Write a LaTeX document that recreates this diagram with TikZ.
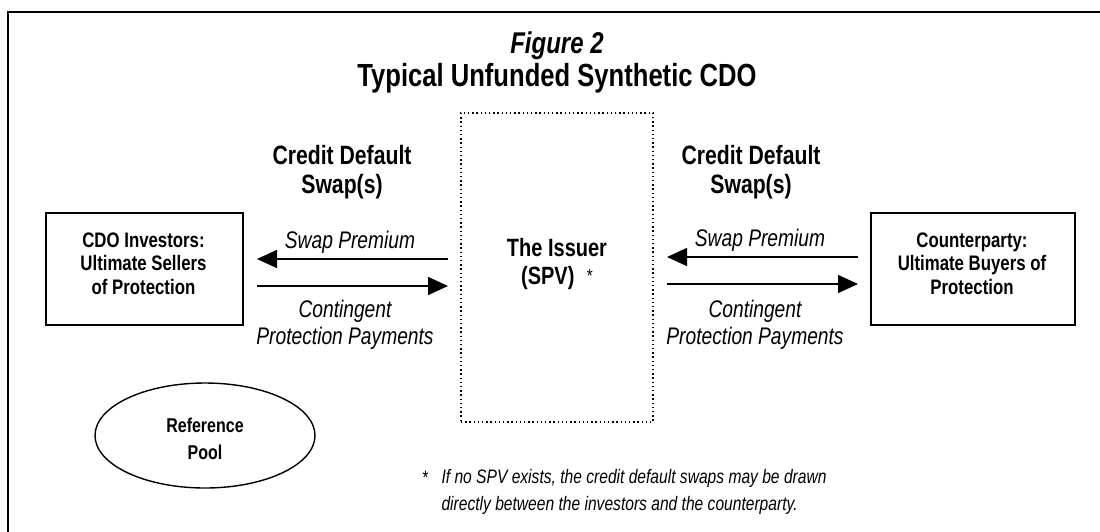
\documentclass[tikz,border=0pt]{standalone}
\usepackage{fontspec}
\setmainfont[FakeStretch=0.8]{Liberation Sans}
\usetikzlibrary{arrows.meta,shapes.geometric}

\newcommand{\fsz}[2]{\fontsize{#1}{#2}\selectfont}

\tikzset{
  frameline/.style={line width=2.6pt},
  partybox/.style={draw, line width=1.6pt, rectangle, inner sep=0pt},
  partytext/.style={align=center, font=\bfseries\fsz{21}{23.5}},
  issuerbox/.style={draw, line width=1.4pt, dash pattern=on 1.4pt off 2.8pt, rectangle, inner sep=0pt},
  headtext/.style={align=center, font=\bfseries\fsz{26.5}{29}},
  flowtext/.style={align=center, font=\itshape\fsz{24}{27}},
  flow/.style={line width=1.6pt, -{Triangle[length=20pt,width=18pt]}},
  poolshape/.style={draw, ellipse, line width=1.4pt, inner sep=0pt},
  notetext/.style={align=left, font=\itshape\fsz{19.5}{27}}
}

\begin{document}
\begin{tikzpicture}[x=1pt,y=-1pt]
  \useasboundingbox (0,0) rectangle (1100,531);
  \clip (0,0) rectangle (1100,531);

  % outer frame (runs off the page at right and bottom)
  \draw[frameline] (8,560) -- (8,12) -- (1130,12);

  % title
  \node[font=\bfseries\itshape\fsz{30}{32}] (fig) at (557,46) {Figure 2};
  \node[font=\bfseries\fsz{32}{34}] (title) at (557,78) {Typical Unfunded Synthetic CDO};

  % parties
  \node[partybox, minimum width=197pt, minimum height=112pt] (inv) at (144.5,269) {};
  \node[partytext] (invtxt) at (143.5,263.5) {CDO Investors:\\Ultimate Sellers\\of Protection};

  \node[partybox, minimum width=204pt, minimum height=112pt] (cpty) at (973,269) {};
  \node[partytext] (cptytxt) at (972,263.5) {Counterparty:\\Ultimate Buyers of\\Protection};

  \node[issuerbox, minimum width=192pt, minimum height=309pt] (spv) at (557,267.5) {};
  \node[align=center, font=\bfseries\fsz{25}{28}] (spvtxt) at (557,264) {The Issuer\\(SPV)\hspace{0.5em}{\normalfont\fsz{19}{19}\raisebox{2pt}{*}}};

  % swap headings
  \node[headtext] (cdsl) at (342,172) {Credit Default\\Swap(s)};
  \node[headtext] (cdsr) at (751,172) {Credit Default\\Swap(s)};

  % arrow end points
  \coordinate (la) at (448,259);
  \coordinate (lb) at (257,259);
  \coordinate (lc) at (257,286);
  \coordinate (ld) at (448,286);
  \coordinate (ra) at (858,257);
  \coordinate (rb) at (667,257);
  \coordinate (rc) at (667,284);
  \coordinate (rd) at (858,284);

  \draw[flow] (la) -- (lb);
  \draw[flow] (lc) -- (ld);
  \draw[flow] (ra) -- (rb);
  \draw[flow] (rc) -- (rd);

  \node[flowtext] (lprem) at (350,242) {Swap Premium};
  \node[flowtext] (lcont) at (345,325) {Contingent\\Protection Payments};
  \node[flowtext] (rprem) at (760,240) {Swap Premium};
  \node[flowtext] (rcont) at (755,325) {Contingent\\Protection Payments};

  % reference pool
  \node[poolshape, minimum width=220pt, minimum height=105pt] (pool) at (205,435.5) {};
  \node[align=center, font=\bfseries\fsz{20}{27}] (pooltxt) at (205,438.5) {Reference\\Pool};

  % footnote
  \node[font=\itshape\fsz{19.5}{27}] (star) at (425,478) {*};
  \node[notetext, anchor=west] (note) at (438,491.5) {If no SPV exists, the credit default swaps may be drawn\\directly between the investors and the counterparty.};
\end{tikzpicture}
\end{document}
